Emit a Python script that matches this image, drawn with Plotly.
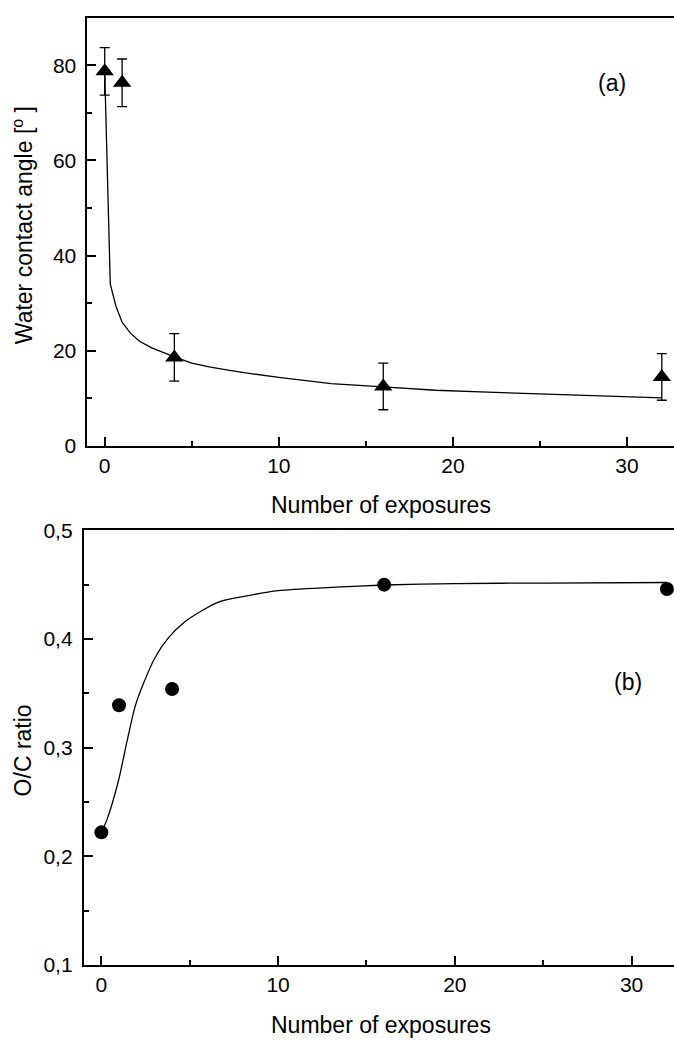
import plotly.graph_objects as go

# ---- data ----
exposures = [0, 1, 4, 16, 32]
contact_angle = [78.7, 76.3, 18.6, 12.5, 14.5]
contact_angle_err = [5.0, 5.0, 5.0, 4.9, 4.9]

fit_a_x = [0, 0.32, 0.65, 1.0, 1.5, 2.0, 2.7, 3.5, 4.0, 5.0, 6.0, 7.0, 8.0, 10, 13, 16, 19, 22, 25, 28, 32]
fit_a_y = [78.7, 34.0, 29.3, 26.0, 23.6, 22.0, 20.6, 19.4, 18.7, 17.4, 16.6, 16.0, 15.4, 14.4, 13.1, 12.4, 11.7, 11.3, 10.9, 10.5, 10.1]

oc_ratio = [0.222, 0.339, 0.354, 0.450, 0.446]

fit_b_x = [0, 0.3, 0.96, 1.44, 1.91, 2.38, 3.04, 3.79, 4.74, 5.68, 6.62, 8.0, 10, 13, 16, 20, 25, 32]
fit_b_y = [0.222, 0.233, 0.269, 0.305, 0.338, 0.359, 0.383, 0.401, 0.416, 0.426, 0.434, 0.439, 0.4445, 0.4475, 0.4497, 0.451, 0.4515, 0.452]

xticks = [0, 10, 20, 30]
yticks_a = [0, 20, 40, 60, 80]
yticks_b = [0.1, 0.2, 0.3, 0.4, 0.5]
yticktext_b = ["0,1", "0,2", "0,3", "0,4", "0,5"]

W, H = 674, 1046
FONT = "Liberation Sans, Arial, sans-serif"

fig = go.Figure()

fig.add_trace(go.Scatter(x=fit_a_x, y=fit_a_y, mode="lines",
                         line=dict(color="black", width=1.3),
                         xaxis="x", yaxis="y", showlegend=False))
fig.add_trace(go.Scatter(x=exposures, y=contact_angle, mode="markers",
                         marker=dict(symbol="triangle-up", size=16, color="black"),
                         error_y=dict(type="data", array=contact_angle_err, color="black",
                                      thickness=1.3, width=5),
                         xaxis="x", yaxis="y", showlegend=False))

fig.add_trace(go.Scatter(x=fit_b_x, y=fit_b_y, mode="lines", line_shape="spline",
                         line=dict(color="black", width=1.3, smoothing=0.7),
                         xaxis="x2", yaxis="y2", showlegend=False))
fig.add_trace(go.Scatter(x=exposures, y=oc_ratio, mode="markers",
                         marker=dict(symbol="circle", size=14, color="black"),
                         xaxis="x2", yaxis="y2", showlegend=False))

def px(x):
    return x / W

def py(y):
    return 1 - y / H

axis_common = dict(showline=True, linecolor="black", linewidth=1.7, showgrid=False,
                   zeroline=False, ticks="inside", ticklen=9, tickwidth=1.5, tickcolor="black",
                   tickfont=dict(family=FONT, size=21, color="black"))

fig.update_layout(
    width=W, height=H,
    margin=dict(l=0, r=0, t=0, b=0),
    paper_bgcolor="white", plot_bgcolor="white",
    font=dict(family=FONT, color="black"),
    xaxis=dict(domain=[px(87.3), 1.0], range=[-1.0, 32.7], anchor="y", mirror=True,
               tickvals=xticks,
               minor=dict(dtick=5, tick0=0, ticks="inside", ticklen=5, tickwidth=1.5, tickcolor="black"),
               **axis_common),
    yaxis=dict(domain=[py(443.7), py(5.7)], range=[0, 90], anchor="x",
               tickvals=yticks_a, ticklabelstandoff=5,
               minor=dict(dtick=10, tick0=0, ticks="inside", ticklen=5, tickwidth=1.5, tickcolor="black"),
               **axis_common),
    xaxis2=dict(domain=[px(83.7), 1.0], range=[-1.0, 32.4], anchor="y2", mirror=True,
                tickvals=xticks,
                minor=dict(dtick=5, tick0=0, ticks="inside", ticklen=5, tickwidth=1.5, tickcolor="black"),
                **axis_common),
    yaxis2=dict(domain=[py(974.3), py(530)], range=[0.1, 0.5], anchor="x2",
                tickvals=yticks_b, ticktext=yticktext_b, ticklabelstandoff=5,
                minor=dict(dtick=0.05, tick0=0.1, ticks="inside", ticklen=5, tickwidth=1.5, tickcolor="black"),
                **axis_common),
)

ann_font = dict(family=FONT, size=23, color="black")
annotations = [
    dict(text="Number of exposures", x=px(381), y=py(504), xref="paper", yref="paper",
         xanchor="center", yanchor="middle", showarrow=False, font=ann_font),
    dict(text="Number of exposures", x=px(381), y=py(1036), xref="paper", yref="paper",
         xanchor="center", yanchor="middle", showarrow=False, font=ann_font),
    dict(text="Water contact angle [<sup>o</sup> ]", x=px(23), y=py(218), xref="paper", yref="paper",
         xanchor="center", yanchor="middle", textangle=-90, showarrow=False, font=ann_font),
    dict(text="O/C ratio", x=px(23), y=py(755), xref="paper", yref="paper",
         xanchor="center", yanchor="middle", textangle=-90, showarrow=False, font=ann_font),
    dict(text="(a)", x=px(612), y=py(73), xref="paper", yref="paper",
         xanchor="center", yanchor="middle", showarrow=False, font=ann_font),
    dict(text="(b)", x=px(628), y=py(685), xref="paper", yref="paper",
         xanchor="center", yanchor="middle", showarrow=False, font=ann_font),
]
fig.update_layout(annotations=annotations)

fig.write_html("out.html")
